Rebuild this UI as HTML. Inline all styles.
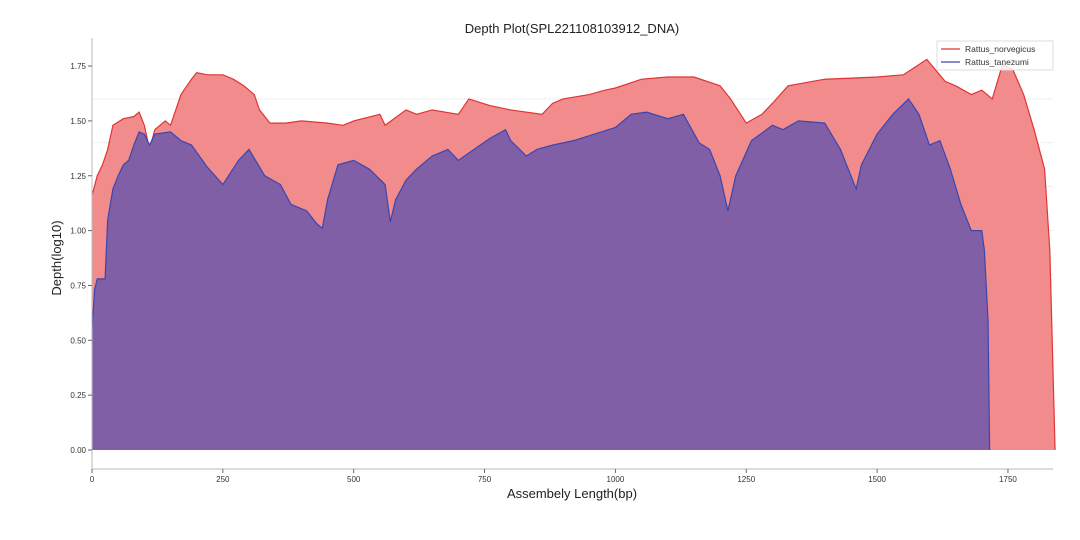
<!DOCTYPE html>
<html><head><meta charset="utf-8"><style>
body{margin:0;background:#fff;}
svg text{font-family:"Liberation Sans","DejaVu Sans",sans-serif;}
</style></head><body>
<svg id="chart" width="1080" height="535" xmlns="http://www.w3.org/2000/svg">
<text x="572" y="33" text-anchor="middle" font-size="13" fill="#222">Depth Plot(SPL221108103912_DNA)</text>
<g id="grid"></g>
<g id="series"></g>
<g id="axes"></g>
<text x="572" y="498" text-anchor="middle" font-size="13" fill="#222">Assembely Length(bp)</text>
<text transform="translate(61,258) rotate(-90)" text-anchor="middle" font-size="13" fill="#222">Depth(log10)</text>
<g>
<rect x="937" y="41" width="116" height="29" fill="#fff" fill-opacity="0.85" stroke="#ddd"/>
<g><line x1="941" y1="49" x2="960" y2="49" stroke="#e03434" stroke-width="1.2"/><text x="965" y="52" font-size="8.5" fill="#333">Rattus_norvegicus</text></g>
<g><line x1="941" y1="62" x2="960" y2="62" stroke="#3a46b0" stroke-width="1.2"/><text x="965" y="65" font-size="8.5" fill="#333">Rattus_tanezumi</text></g>
</g>
</svg>
<script>
const redBp = [0,10,20,30,40,60,80,90,100,110,120,140,150,160,170,190,200,220,250,270,290,310,320,340,370,400,450,480,500,550,560,600,620,650,700,720,760,800,860,880,900,950,980,1000,1050,1100,1150,1200,1220,1250,1280,1300,1330,1400,1500,1550,1595,1630,1650,1680,1700,1720,1740,1760,1780,1800,1820,1830,1835,1840];
const redVal = [1.16,1.25,1.30,1.37,1.48,1.51,1.52,1.54,1.48,1.37,1.46,1.50,1.48,1.55,1.62,1.69,1.72,1.71,1.71,1.69,1.66,1.62,1.55,1.49,1.49,1.50,1.49,1.48,1.50,1.53,1.48,1.55,1.53,1.55,1.53,1.60,1.57,1.55,1.53,1.58,1.60,1.62,1.64,1.65,1.69,1.70,1.70,1.66,1.60,1.49,1.53,1.58,1.66,1.69,1.70,1.71,1.78,1.68,1.66,1.62,1.64,1.60,1.76,1.73,1.62,1.46,1.28,0.91,0.46,0];
const blueBp = [0,5,10,25,30,40,50,60,70,80,90,100,110,120,150,170,190,220,250,280,300,330,360,380,410,430,440,450,470,500,530,560,570,580,600,620,650,680,700,730,760,790,800,830,850,880,920,960,1000,1030,1060,1100,1130,1160,1180,1200,1215,1230,1260,1300,1320,1350,1400,1430,1460,1470,1500,1530,1560,1580,1600,1620,1640,1660,1680,1700,1705,1712,1715];
const blueVal = [0.55,0.73,0.78,0.78,1.05,1.19,1.25,1.30,1.32,1.39,1.45,1.44,1.39,1.44,1.45,1.41,1.39,1.29,1.21,1.32,1.37,1.25,1.21,1.12,1.09,1.03,1.01,1.14,1.30,1.32,1.28,1.21,1.04,1.14,1.23,1.28,1.34,1.37,1.32,1.37,1.42,1.46,1.41,1.34,1.37,1.39,1.41,1.44,1.47,1.53,1.54,1.51,1.53,1.40,1.37,1.25,1.09,1.25,1.41,1.48,1.46,1.50,1.49,1.37,1.19,1.30,1.44,1.53,1.60,1.53,1.39,1.41,1.28,1.12,1.00,1.00,0.91,0.59,0];
const xTicks = [0,250,500,750,1000,1250,1500,1750];
const yTicks = [0,0.25,0.5,0.75,1.0,1.25,1.5,1.75];
const gridVals = [0.2,0.4,0.6,0.8,1.0,1.2,1.4,1.6];

const NS="http://www.w3.org/2000/svg";
const X0=92, PXBP=0.5234, Y0=450, PXV=219.4;
const xs=v=>X0+v*PXBP, ys=v=>Y0-v*PXV;
function mk(tag,attrs,parent){const e=document.createElementNS(NS,tag);for(const k in attrs)e.setAttribute(k,attrs[k]);parent.appendChild(e);return e;}
const grid=document.getElementById('grid'),series=document.getElementById('series'),axes=document.getElementById('axes');
gridVals.forEach(v=>{const l=mk('line',{x1:X0,x2:1053,y1:ys(v),y2:ys(v),stroke:'#ccc','stroke-width':0.6,'stroke-dasharray':'1,1'},grid);

});
function draw(bp,val,fill,stroke,name){
 let d='M'+xs(bp[0])+','+ys(0);
 let ld='';
 bp.forEach((b,i)=>{d+=' L'+xs(b)+','+ys(val[i]);ld+=(i?' L':'M')+xs(b)+','+ys(val[i]);});
 d+=' L'+xs(bp[bp.length-1])+','+ys(0)+' Z';
 const a=mk('path',{d:d,fill:fill},series);
 
 
 const l=mk('path',{d:ld,fill:'none',stroke:stroke,'stroke-width':1.2},series);
 
 
}
draw(redBp,redVal,'#f28c8c','#e03434','norvegicus');
draw(blueBp,blueVal,'#805fa6','#3a46b0','tanezumi');
mk('line',{x1:X0,x2:X0,y1:38,y2:469,stroke:'#bbb','stroke-width':1},axes);
mk('line',{x1:X0,x2:1053,y1:469,y2:469,stroke:'#bbb','stroke-width':1},axes);
xTicks.forEach(t=>{mk('line',{x1:xs(t),x2:xs(t),y1:469,y2:473,stroke:'#666'},axes);
 const tx=mk('text',{x:xs(t),y:482,'text-anchor':'middle','font-size':8,fill:'#333'},axes);tx.textContent=t;
 
 });
yTicks.forEach(t=>{mk('line',{x1:X0-4,x2:X0,y1:ys(t),y2:ys(t),stroke:'#666'},axes);
 const tx=mk('text',{x:X0-6,y:ys(t)+3,'text-anchor':'end','font-size':8,fill:'#333'},axes);tx.textContent=t.toFixed(2);
 
 });
</script>
</body></html>
